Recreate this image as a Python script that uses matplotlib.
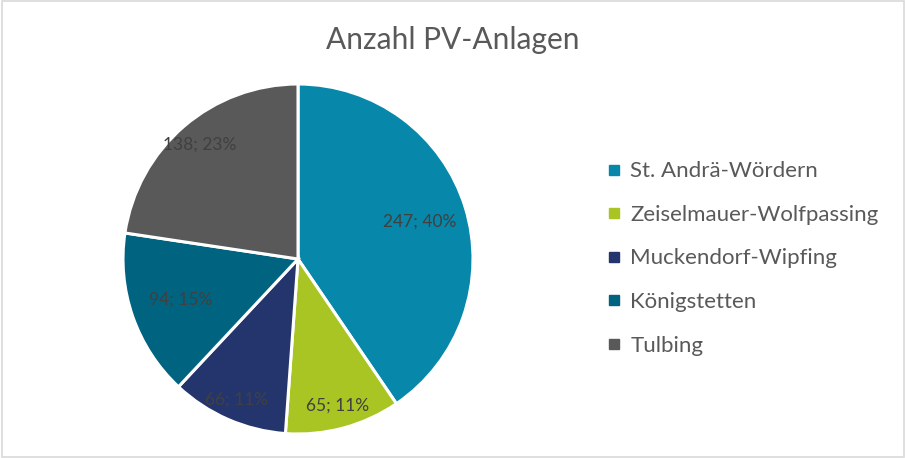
import numpy as np
import matplotlib
matplotlib.use("Agg")
import matplotlib.pyplot as plt
from matplotlib.lines import Line2D
from matplotlib.patches import FancyBboxPatch

categories = ["St. Andrä-Wördern", "Zeiselmauer-Wolfpassing", "Muckendorf-Wipfing",
              "Königstetten", "Tulbing"]
values = [247, 65, 66, 94, 138]
colors = ["#0787AA", "#A8C523", "#24356E", "#006480", "#595959"]
label_radius = [0.73, 0.87, 0.88, 0.71, 0.86]
title = "Anzahl PV-Anlagen"

plt.rcParams['font.family'] = ['Lato', 'DejaVu Sans']

W, H = 905, 458
fig = plt.figure(figsize=(W / 100, H / 100), dpi=100)
fig.patch.set_facecolor("white")

cx, cy, r = 298, 259, 175
ax = fig.add_axes([(cx - r) / W, (H - cy - r) / H, 2 * r / W, 2 * r / H])
wedges, _ = ax.pie(values, colors=colors, startangle=90, counterclock=False,
                   radius=1, wedgeprops=dict(edgecolor="white", linewidth=2.2))
ax.set_xlim(-1, 1)
ax.set_ylim(-1, 1)
ax.set_aspect("equal")
ax.axis("off")

total = sum(values)
for w, v, lr in zip(wedges, values, label_radius):
    ang = np.deg2rad((w.theta1 + w.theta2) / 2)
    pct = round(100 * v / total)
    ax.text(lr * np.cos(ang), lr * np.sin(ang), f"{v}; {pct}%",
            ha="center", va="center", fontsize=12.5, color="#404040")

fig.text(453 / W, 1 - 40 / H, title, ha="center", va="center",
         fontsize=21.5, color="#595959")

handles = [Line2D([], [], marker="s", linestyle="none", markersize=7,
                  markerfacecolor=c, markeredgecolor=c) for c in colors]
fig.legend(handles, categories, loc="center left",
           bbox_to_anchor=(596 / W, 1 - 258.5 / H), frameon=False,
           fontsize=16, labelcolor="#595959", labelspacing=1.06,
           handlelength=0.6, handletextpad=0.45, borderpad=0)

fig.patches.append(FancyBboxPatch((1.5 / W, 1.5 / H), 1 - 3 / W, 1 - 3 / H,
                                  boxstyle="square,pad=0", transform=fig.transFigure,
                                  fill=False, edgecolor="#D9D9D9", linewidth=1.2))

fig.savefig("out.png", dpi=100)
